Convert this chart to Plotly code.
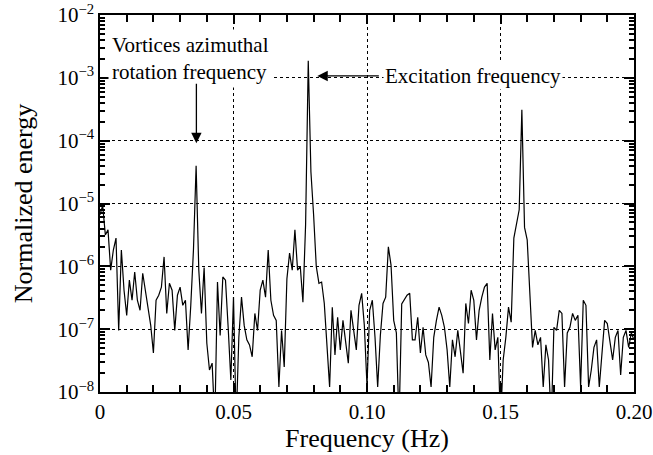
import plotly.graph_objects as go

# Spectrum sampled every 0.001 Hz from 0 to 0.200 Hz (log10 of normalized energy).
freq_step_hz = 0.001
log10_energy = [
    -5.18, -5.03, -5.50, -5.42, -6.06, -5.74, -5.55, -7.02, -5.74, -6.38,
    -6.78, -6.22, -6.54, -6.09, -6.54, -6.70, -6.11, -6.38, -6.62, -6.94,
    -7.38, -6.54, -6.46, -6.33, -5.85, -6.75, -6.27, -6.38, -7.02, -6.46,
    -6.33, -6.62, -6.54, -7.33, -6.62, -5.74, -4.40, -6.06, -6.75, -6.02,
    -7.22, -7.65, -7.54, -8.50, -6.25, -7.10, -6.17, -6.22, -6.97, -7.81,
    -6.49, -8.50, -7.13, -6.49, -6.94, -7.17, -7.25, -7.44, -6.75, -7.02,
    -6.38, -6.22, -6.49, -5.74, -6.54, -6.78, -6.86, -7.92, -7.02, -7.60,
    -6.20, -5.79, -6.06, -5.42, -6.06, -6.00, -6.57, -5.34, -2.73, -4.50,
    -5.18, -6.00, -6.27, -6.25, -6.59, -7.29, -7.92, -6.65, -7.41, -6.81,
    -7.33, -6.86, -7.17, -7.54, -6.70, -7.02, -7.33, -6.62, -6.43, -6.94,
    -7.90, -6.70, -6.54, -7.13, -7.92, -7.10, -6.59, -6.49, -5.69, -5.98,
    -6.86, -7.06, -8.50, -6.60, -6.54, -6.46, -6.43, -7.17, -7.17, -6.81,
    -7.38, -6.97, -7.41, -7.53, -7.92, -7.13, -6.86, -6.65, -6.78, -6.97,
    -7.33, -7.92, -7.17, -7.44, -7.02, -7.38, -7.70, -6.59, -6.91, -6.38,
    -6.54, -7.17, -6.70, -6.49, -6.33, -6.27, -7.49, -6.75, -7.33, -7.13,
    -8.50, -7.49, -7.13, -6.65, -6.89, -5.55, -5.34, -5.10, -3.51, -5.38,
    -5.58, -6.54, -7.29, -7.02, -7.25, -7.13, -7.92, -7.25, -7.49, -8.50,
    -6.97, -7.02, -6.70, -6.75, -7.92, -7.06, -6.97, -6.75, -6.86, -6.78,
    -7.92, -6.54, -6.62, -7.92, -7.65, -7.29, -7.17, -7.92, -7.33, -6.86,
    -6.91, -7.22, -7.49, -7.13, -7.02, -7.73, -7.13, -7.02, -7.29, -7.06,
    -7.17,
]
freq_hz = [round(i * freq_step_hz, 3) for i in range(len(log10_energy))]
energy = [10 ** v for v in log10_energy]

x_tick_vals = [0, 0.05, 0.10, 0.15, 0.20]
x_tick_text = ["0", "0.05", "0.10", "0.15", "0.20"]
x_minor_vals = [0.01, 0.02, 0.03, 0.04, 0.06, 0.07, 0.08, 0.09,
                0.11, 0.12, 0.13, 0.14, 0.16, 0.17, 0.18, 0.19]

decades = [-8, -7, -6, -5, -4, -3, -2]
y_tick_vals = [10.0 ** d for d in decades]
y_tick_text = ["10<sup>\u2212%d</sup>" % (-d) for d in decades]
y_minor_vals = [m * 10.0 ** d for d in decades[:-1] for m in range(2, 10)]

vortex_label = "Vortices azimuthal<br>rotation frequency"
vortex_freq = 0.0361
excitation_label = "Excitation frequency"
excitation_freq = 0.0814

FONT = "Liberation Serif, Times New Roman, serif"

fig = go.Figure()
fig.add_trace(go.Scatter(
    x=freq_hz, y=energy, mode="lines",
    line=dict(color="black", width=1.2),
    showlegend=False, hoverinfo="skip",
))

grid_style = dict(showgrid=True, gridcolor="black", gridwidth=1, griddash="dot")
tick_font = dict(family=FONT, size=21, color="black")

fig.update_layout(
    template="none",
    xaxis=dict(
        range=[0, 0.2], automargin=True,
        showline=True, linecolor="black", linewidth=1.5, mirror="allticks",
        ticks="inside", ticklen=9, tickwidth=1.5, tickcolor="black",
        tickmode="array", tickvals=x_tick_vals, ticktext=x_tick_text,
        minor=dict(tickmode="array", tickvals=x_minor_vals, ticks="inside",
                   ticklen=7, tickwidth=1.5, tickcolor="black", showgrid=False),
        tickfont=tick_font, zeroline=False, **grid_style,
        title=dict(text="Frequency (Hz)", font=dict(family=FONT, size=26, color="black"), standoff=0),
    ),
    yaxis=dict(
        type="log", range=[-8, -2], automargin=True,
        showline=True, linecolor="black", linewidth=1.5, mirror="allticks",
        ticks="inside", ticklen=10, tickwidth=1.5, tickcolor="black",
        tickmode="array", tickvals=y_tick_vals, ticktext=y_tick_text,
        minor=dict(tickmode="array", tickvals=y_minor_vals, ticks="inside",
                   ticklen=5, tickwidth=1.5, tickcolor="black", showgrid=False),
        tickfont=tick_font, zeroline=False, **grid_style,
        title=dict(text="Normalized energy", font=dict(family=FONT, size=26, color="black"), standoff=17),
    ),
)

# Text labels (white boxes hide the grid behind them)
fig.add_annotation(
    x=0.0339, xref="x", y=0.8846, yref="paper", xanchor="center", yanchor="middle",
    text=vortex_label, showarrow=False, align="left",
    font=dict(family=FONT, size=21, color="black"),
    bgcolor="white", borderpad=3,
)
fig.add_annotation(
    x=0.1398, xref="x", y=0.8395, yref="paper", xanchor="center", yanchor="middle",
    text=excitation_label, showarrow=False,
    font=dict(family=FONT, size=21, color="black"),
    bgcolor="white", borderpad=1,
)

# Arrows pointing at the two frequencies
fig.add_annotation(
    x=vortex_freq, y=-4.04, xref="x", yref="y",
    text="", showarrow=True, ax=0, ay=-61,
    arrowhead=2, arrowsize=1.6, arrowwidth=1.3, arrowcolor="black", standoff=0,
)
fig.add_annotation(
    x=excitation_freq, y=-2.97, xref="x", yref="y",
    text="", showarrow=True, ax=63, ay=0,
    arrowhead=2, arrowsize=1.6, arrowwidth=1.3, arrowcolor="black", standoff=0,
)

fig.update_layout(
    width=653, height=455,
    margin=dict(l=100, r=19, t=15, b=63, autoexpand=False),
    paper_bgcolor="white", plot_bgcolor="white",
    font=dict(family=FONT, color="black"),
)

fig.write_html("out.html")
